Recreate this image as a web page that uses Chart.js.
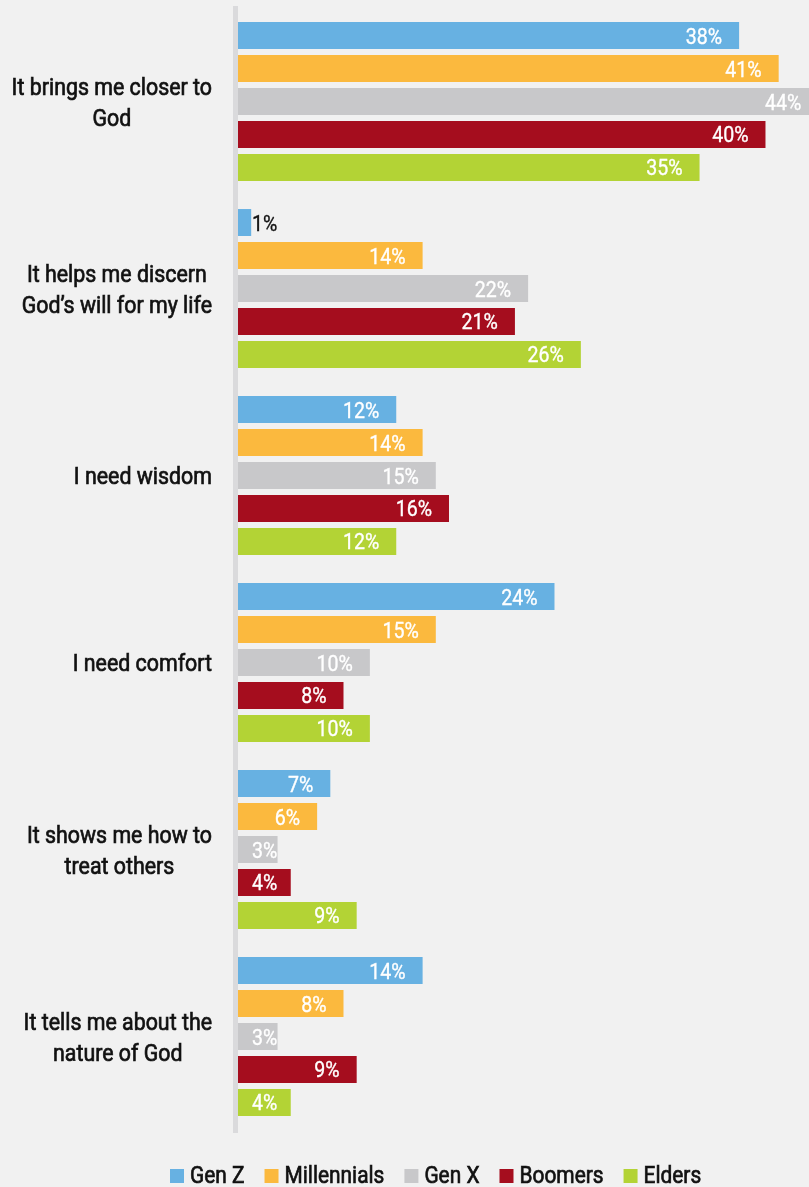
<!DOCTYPE html>
<html>
<head>
<meta charset="utf-8">
<script src="https://cdn.jsdelivr.net/npm/chart.js@4/dist/chart.umd.min.js"></script>
<style>
  html, body { margin: 0; padding: 0; background: #f1f1f1; }
  #marco { position: relative; width: 809px; height: 1187px; }
</style>
</head>
<body>
<div id="marco"><canvas id="chMotivos"></canvas></div>
<script>
// Motivos para leer la Biblia, por generacion (porcentajes)
const CATEGORIAS = [
  ["It brings me closer to", "God"],
  ["It helps me discern", "God\u2019s will for my life"],
  ["I need wisdom"],
  ["I need comfort"],
  ["It shows me how to", "treat others"],
  ["It tells me about the", "nature of God"],
];
const SERIES = ["Gen Z", "Millennials", "Gen X", "Boomers", "Elders"];
const GEN_Z = [38, 1, 12, 24, 7, 14];
const MILLENNIALS = [41, 14, 14, 15, 6, 8];
const GEN_X = [44, 22, 15, 10, 3, 3];
const BOOMERS = [40, 21, 16, 8, 4, 9];
const ELDERS = [35, 26, 12, 10, 9, 4];

const COLORES = ["#67b1e2", "#fbb93e", "#c8c8ca", "#a50d1e", "#b3d335"];
const FUENTE = "Roboto, 'Liberation Sans', sans-serif";
// no hay fuente condensada instalada: se estrecha el texto horizontalmente
// y se le da un trazo fino para engrosarlo un poco (peso "medium")
const ESTRECHO = 0.89;
const ESTRECHO_LEYENDA = 0.87;

function anchoTexto(ctx, texto, sx = ESTRECHO) {
  return ctx.measureText(texto).width * sx;
}

/** Escribe texto estrechado; x es el borde izquierdo del texto. */
function escribir(ctx, texto, x, y, sx = ESTRECHO, trazo = 0.7) {
  ctx.save();
  ctx.translate(x, y);
  ctx.scale(sx, 1);
  ctx.textAlign = "left";
  ctx.strokeStyle = ctx.fillStyle;
  ctx.lineWidth = trazo;
  ctx.fillText(texto, 0, 0);
  if (trazo > 0) ctx.strokeText(texto, 0, 0);
  ctx.restore();
}

/** Eje vertical gris, etiquetas de categoria (bloque alineado a la derecha,
 *  lineas centradas entre si), porcentajes sobre cada barra y leyenda. */
const etiquetasPlugin = {
  id: "etiquetas",
  beforeDatasetsDraw(chart) {
    const { ctx, chartArea } = chart;
    ctx.save();
    ctx.fillStyle = "#dadadc";
    ctx.fillRect(chartArea.left - 5, chartArea.top - 2, 5, chartArea.bottom - chartArea.top + 5);
    ctx.restore();
  },
  afterDatasetsDraw(chart) {
    const { ctx, chartArea } = chart;
    const yScale = chart.scales.y;
    ctx.save();
    ctx.textBaseline = "alphabetic";

    // categorias
    ctx.font = "24px " + FUENTE;
    ctx.fillStyle = "#111";
    const borde = chartArea.left - 26;
    CATEGORIAS.forEach((lineas, i) => {
      const yc = yScale.getPixelForValue(i);
      const ancho = Math.max(...lineas.map(l => anchoTexto(ctx, l)));
      const xc = borde - ancho / 2;
      lineas.forEach((l, j) => {
        const yl = yc + (j - (lineas.length - 1) / 2) * 31 + 8.5;
        escribir(ctx, l, xc - anchoTexto(ctx, l) / 2, yl);
      });
    });

    // porcentajes
    ctx.font = "22px " + FUENTE;
    chart.data.datasets.forEach((ds, d) => {
      chart.getDatasetMeta(d).data.forEach((bar, i) => {
        const texto = ds.data[i] + "%";
        const w = anchoTexto(ctx, texto);
        const izq = Math.max(bar.x - 17 - w, bar.base + 14);
        ctx.fillStyle = bar.x < izq ? "#111" : "#fff";
        escribir(ctx, texto, izq, bar.y + 8, ESTRECHO, 0.35);
      });
    });

    // leyenda
    ctx.font = "24px " + FUENTE;
    let x = 170;
    const yBase = 1183;
    SERIES.forEach((nombre, i) => {
      ctx.fillStyle = COLORES[i];
      ctx.fillRect(x, yBase - 14, 14, 14);
      ctx.fillStyle = "#111";
      escribir(ctx, nombre, x + 20, yBase, ESTRECHO_LEYENDA);
      x += 20 + anchoTexto(ctx, nombre, ESTRECHO_LEYENDA) + 20;
    });
    ctx.restore();
  },
};

const valores = [GEN_Z, MILLENNIALS, GEN_X, BOOMERS, ELDERS];

new Chart(document.getElementById("chMotivos"), {
  type: "bar",
  data: {
    labels: CATEGORIAS,
    datasets: SERIES.map((nombre, i) => ({
      label: nombre,
      data: valores[i],
      backgroundColor: COLORES[i],
      borderWidth: 0,
      categoryPercentage: 0.882,
      barPercentage: 0.818,
    })),
  },
  options: {
    indexAxis: "y",
    responsive: true,
    maintainAspectRatio: false,
    animation: false,
    layout: { padding: { left: 238, top: 8, right: 0, bottom: 57 } },
    scales: {
      x: { display: false, min: 0, max: 43.3 },
      y: { display: false },
    },
    plugins: {
      tooltip: { enabled: false },
      legend: { display: false },
    },
  },
  plugins: [etiquetasPlugin],
});
</script>
</body>
</html>
